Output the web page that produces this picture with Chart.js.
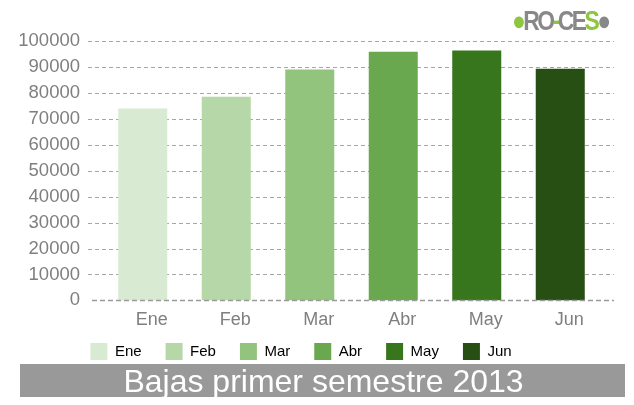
<!DOCTYPE html>
<html>
<head>
<meta charset="utf-8">
<script src="https://cdn.jsdelivr.net/npm/chart.js@4"></script>
<style>
  body { margin: 0; background: #fff; font-family: "Liberation Sans", Arial, sans-serif; }
  #wrap { position: relative; width: 634px; height: 405px; overflow: hidden; }
  #grafico { position: absolute; left: 0; top: 0; }
  #titulo {
    position: absolute; left: 20px; top: 364px; width: 605px; height: 33px;
    background: #999999; color: #fff; font-size: 32px; line-height: 34px;
    text-align: center; padding-left: 2px; box-sizing: border-box;
  }
  #logo {
    position: absolute; left: 512px; top: 6px; font-size: 27px; font-weight: bold;
    letter-spacing: -3px; color: #888; transform: scaleX(0.85); transform-origin: left top;
    font-family: "Liberation Sans Narrow", "Liberation Sans", sans-serif;
  }
  #logo .v { color: #8dc63f; }
</style>
</head>
<body>
<div id="wrap">
  <canvas id="grafico" width="634" height="383"></canvas>
  <div id="logo"><span class="v">●</span>RO<span class="v">-</span>C<span>E</span><span class="v">S</span>●</div>
  <div id="titulo">Bajas primer semestre 2013</div>
</div>
<script>
const meses = ['Ene', 'Feb', 'Mar', 'Abr', 'May', 'Jun'];
const bajas = [74000, 78500, 89000, 95900, 96300, 89300];
const colores = ['#d9ead3', '#b6d7a8', '#93c47d', '#6aa84f', '#38761d', '#274e13'];

// lineas de la cuadricula un poco mas largas que el area del grafico
const lineasGrid = {
    id: 'lineasGrid',
    afterLayout(chart) {
        // subir la leyenda, pegada a las etiquetas del eje x
        chart.legend.top -= 13;
        chart.legend.bottom -= 13;
    },
    beforeDatasetsDraw(chart) {
        const { ctx, chartArea, scales: { y } } = chart;
        ctx.save();
        ctx.strokeStyle = '#a6a6a6';
        ctx.lineWidth = 1;
        ctx.setLineDash([4, 3]);
        y.ticks.forEach(t => {
            if (t.value === 0) return;
            const py = Math.round(y.getPixelForValue(t.value)) + 0.5;
            ctx.beginPath();
            ctx.moveTo(chartArea.left - 13, py);
            ctx.lineTo(chartArea.right + 12, py);
            ctx.stroke();
        });
        ctx.restore();
    },
    afterDatasetsDraw(chart) {
        const { ctx, chartArea, scales: { y } } = chart;
        const py = Math.round(y.getPixelForValue(0)) + 0.5;
        ctx.save();
        ctx.strokeStyle = '#9a9a9a';
        ctx.lineWidth = 1.5;
        ctx.setLineDash([5, 3]);
        ctx.beginPath();
        ctx.moveTo(chartArea.left - 9, py);
        ctx.lineTo(chartArea.right + 12, py);
        ctx.stroke();
        ctx.restore();
    }
};

new Chart(document.getElementById('grafico'), {
    type: 'bar',
    data: {
        labels: meses,
        datasets: [{
            label: 'Bajas',
            data: bajas,
            backgroundColor: colores,
            borderWidth: 0,
            categoryPercentage: 1,
            barPercentage: 0.587
        }]
    },
    options: {
        responsive: false,
        animation: false,
        layout: { padding: { top: 41, right: 32, left: 0, bottom: 0 } },
        scales: {
            x: {
                grid: { display: false },
                border: { display: false },
                ticks: {
                    color: '#7f7f7f',
                    font: { family: 'Liberation Sans', size: 18 },
                    padding: 1,
                    labelOffset: 9,
                    maxRotation: 0,
                    autoSkip: false
                }
            },
            y: {
                min: 0,
                max: 100000,
                grid: { display: false },
                border: { display: false },
                afterFit: s => { s.width = 101; },
                ticks: {
                    stepSize: 10000,
                    autoSkip: false,
                    color: '#7f7f7f',
                    font: { family: 'Liberation Sans', size: 18.5 },
                    padding: 13,
                    callback: v => String(v)
                }
            }
        },
        plugins: {
            tooltip: { enabled: false },
            legend: {
                position: 'bottom',
                onClick: null,
                labels: {
                    boxWidth: 17,
                    boxHeight: 17,
                    padding: 24,
                    color: '#333',
                    font: { family: 'Liberation Sans', size: 15 },
                    generateLabels: chart => chart.data.labels.map((m, i) => ({
                        text: m,
                        fillStyle: colores[i],
                        strokeStyle: colores[i],
                        lineWidth: 0,
                        index: i
                    }))
                }
            }
        }
    },
    plugins: [lineasGrid]
});
</script>
</body>
</html>
